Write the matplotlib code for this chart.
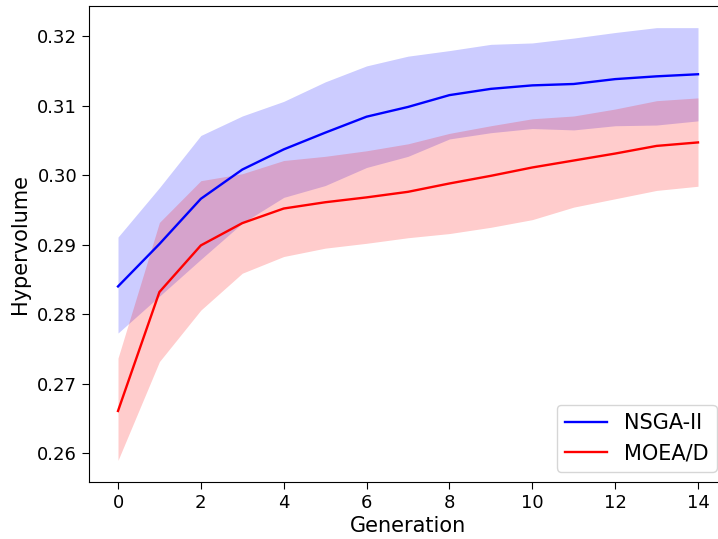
import matplotlib
matplotlib.use("Agg")
import matplotlib.pyplot as plt
import numpy as np

generations = list(range(15))

nsga_mean = [0.2840, 0.2901, 0.2966, 0.3008, 0.3037, 0.3061, 0.3084, 0.3098,
             0.3115, 0.3124, 0.3129, 0.3131, 0.3138, 0.3142, 0.3145]
nsga_upper = [0.2911, 0.2982, 0.3057, 0.3085, 0.3106, 0.3134, 0.3157, 0.3171,
              0.3179, 0.3188, 0.3190, 0.3197, 0.3205, 0.3212, 0.3212]
nsga_lower = [0.2773, 0.2826, 0.2879, 0.2931, 0.2968, 0.2985, 0.3011, 0.3027,
              0.3052, 0.3061, 0.3067, 0.3065, 0.3071, 0.3072, 0.3078]

moead_mean = [0.2661, 0.2832, 0.2899, 0.2931, 0.2952, 0.2961, 0.2968, 0.2976,
              0.2988, 0.2999, 0.3011, 0.3021, 0.3031, 0.3042, 0.3047]
moead_upper = [0.2737, 0.2932, 0.2992, 0.3002, 0.3021, 0.3027, 0.3035, 0.3045,
               0.3060, 0.3071, 0.3081, 0.3085, 0.3095, 0.3107, 0.3111]
moead_lower = [0.2590, 0.2732, 0.2806, 0.2859, 0.2883, 0.2895, 0.2902, 0.2910,
               0.2916, 0.2925, 0.2936, 0.2954, 0.2966, 0.2978, 0.2984]

fig = plt.figure(figsize=(7.18, 5.39), dpi=100)
ax = fig.add_axes([89/718, 57/539, 638/718, 476/539])

ax.fill_between(generations, nsga_lower, nsga_upper, color="blue", alpha=0.2, linewidth=0)
ax.plot(generations, nsga_mean, color="blue", linewidth=1.7, label="NSGA-II")
ax.fill_between(generations, moead_lower, moead_upper, color="red", alpha=0.2, linewidth=0)
ax.plot(generations, moead_mean, color="red", linewidth=1.7, label="MOEA/D")

ax.set_xticks(range(0, 15, 2))
ax.tick_params(labelsize=13, length=5)
ax.set_xlabel("Generation", fontsize=15, labelpad=3)
ax.set_ylabel("Hypervolume", fontsize=15, labelpad=5)
ax.legend(loc="lower right", fontsize=15)

fig.savefig("out.png", dpi=100)
